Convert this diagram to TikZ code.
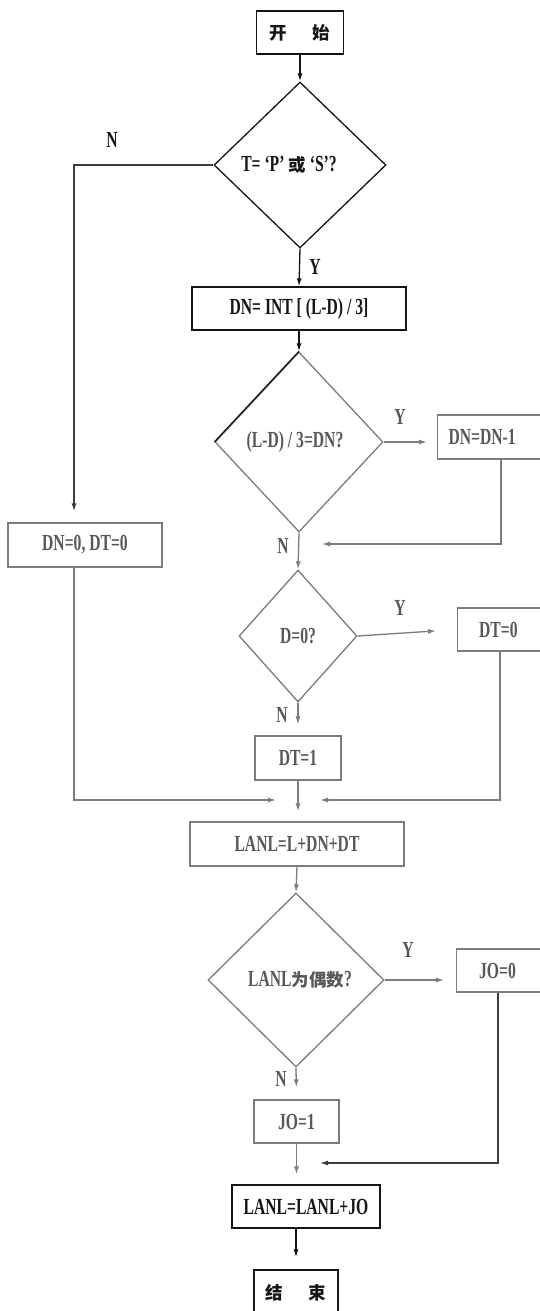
\documentclass[tikz,border=0pt]{standalone}
\usepackage{fontspec}
\setmainfont{Liberation Serif}[FakeStretch=0.68]
\newfontfamily\cjk{Noto Sans CJK SC}
\usetikzlibrary{shapes.geometric,arrows.meta}
\newcommand\zhc[1]{{\cjk\bfseries\fontsize{17.5}{20}\selectfont #1}}
\definecolor{inkA}{HTML}{151515}
\definecolor{inkB}{HTML}{7C7C7C}
\definecolor{inkT}{HTML}{585858}
\definecolor{inkC}{HTML}{3C3C3C}
\begin{document}
\begin{tikzpicture}[x=1pt,y=-1pt,line width=1.3pt,
  lab/.style={font=\bfseries\fontsize{23}{26}\selectfont},
  rbox/.style={lab,draw,rectangle,inner sep=0pt},
  dia/.style={lab,draw,diamond,inner sep=0pt},
  blk/.style={draw=inkA,text=inkA},
  gry/.style={draw=inkB,text=inkT},
  arr/.style={-{Latex[length=8pt,width=5pt]}},
  tag/.style={lab,inner sep=0pt}]
\clip (0,0) rectangle (540,1311);
\fill[white] (0,0) rectangle (540,1311);
% nodes
\node[rbox,blk,minimum width=87pt,minimum height=43pt] (start) at (300,32.5) {\zhc{开}\hspace{26pt}\zhc{始}};
\node[dia,blk,minimum width=172pt,minimum height=166pt] (d1) at (300,165) {T= ‘P’ \zhc{或} ‘S’?\hspace*{22pt}};
\node[rbox,blk,minimum width=214pt,minimum height=43pt] (dnint) at (299,308.5) {DN= INT [ (L-D) / 3]};
\node[dia,gry,minimum width=168pt,minimum height=180pt] (d2) at (299,442) {(L-D) / 3=DN?\hspace*{8pt}};
\node[rbox,gry,anchor=west,text width=180pt,align=left,inner xsep=11pt,minimum height=44pt] (dndn1) at (437,437) {DN=DN-1};
\node[rbox,gry,minimum width=154pt,minimum height=44pt] (dn0) at (85,545) {DN=0, DT=0};
\node[dia,gry,minimum width=118pt,minimum height=132pt] (d3) at (298,636) {D=0?};
\node[rbox,gry,anchor=west,text width=180pt,align=left,inner xsep=21.5pt,minimum height=43pt] (dt0) at (457,629.5) {DT=0};
\node[rbox,gry,minimum width=86pt,minimum height=44pt] (dt1) at (298,758) {DT=1};
\node[rbox,gry,minimum width=214pt,minimum height=44pt] (lanl1) at (297,844) {LANL=L+DN+DT};
\node[dia,gry,minimum width=176pt,minimum height=174pt] (d4) at (296,980) {\hspace*{8pt}LANL\zhc{为偶数}?};
\node[rbox,gry,anchor=west,text width=180pt,align=left,inner xsep=22.5pt,minimum height=43pt] (jo0) at (456,970.5) {JO=0};
\node[rbox,gry,minimum width=85pt,minimum height=43pt] (jo1) at (296.5,1121.5) {JO=1};
\node[rbox,blk,minimum width=148pt,minimum height=43pt] (lanl2) at (306,1206.5) {LANL=LANL+JO};
\node[rbox,blk,minimum width=84pt,minimum height=46pt] (end) at (296,1293) {\zhc{结}\hspace{26pt}\zhc{束}};
% labels
\node[tag,text=inkA] (n1) at (112,140) {N};
\node[tag,text=inkA] (y1) at (315,267) {Y};
\node[tag,text=inkT] (y2) at (400,417) {Y};
\node[tag,text=inkT] (n2) at (283,546) {N};
\node[tag,text=inkT] (y3) at (400,608) {Y};
\node[tag,text=inkT] (n3) at (282,715) {N};
\node[tag,text=inkT] (y4) at (408,950) {Y};
\node[tag,text=inkT] (n4) at (281,1079) {N};
% helper coordinates
\coordinate (l1) at (74,0);
\coordinate (r1) at (501,0);
\coordinate (r3) at (500,0);
\coordinate (r4) at (498,0);
\coordinate (m1) at (299,544);
\coordinate (m3) at (298,800);
\coordinate (m4) at (297,1163);
% darker upper-left edge of d2
\draw[inkA] (d2.west) -- (d2.north);
% connectors
\draw[arr,inkA] (start.south) -- (d1.north);
\draw[arr,inkA] (d1.south) -- (dnint.north);
\draw[arr,inkC,shorten >=11pt] (d1.west) -| (l1 |- dn0.north);
\draw[arr,inkA] (dnint.south) -- (d2.north);
\draw[arr,inkB,shorten >=10pt] (d2.east) -- (d2.east -| dndn1.west);
\draw[arr,inkB,shorten >=23pt] (r1 |- dndn1.south) |- (m1);
\draw[arr,inkB] (d2.south) -- (d3.north);
\draw[arr,inkB,shorten >=21pt] (d3.east) -- (dt0.west);
\draw[arr,inkB,shorten >=11pt] (d3.south) -- (dt1.north);
\draw[arr,inkB,shorten >=10pt] (dt1.south) -- (dt1.south |- lanl1.north);
\draw[arr,inkB,shorten >=22pt] (l1 |- dn0.south) |- (m3);
\draw[arr,inkB,shorten >=22pt] (r3 |- dt0.south) |- (m3);
\draw[arr,inkB] (lanl1.south) -- (d4.north);
\draw[arr,inkB,shorten >=12pt] (d4.east) -- (d4.east -| jo0.west);
\draw[arr,inkB,shorten >=12pt] (d4.south) -- (jo1.north);
\draw[arr,inkB,shorten >=10pt] (jo1.south) -- (jo1.south |- lanl2.north);
\draw[arr,inkC,shorten >=23pt] (r4 |- jo0.south) |- (m4);
\draw[arr,inkA,shorten >=12pt] (end.north |- lanl2.south) -- (end.north);
\end{tikzpicture}
\end{document}
